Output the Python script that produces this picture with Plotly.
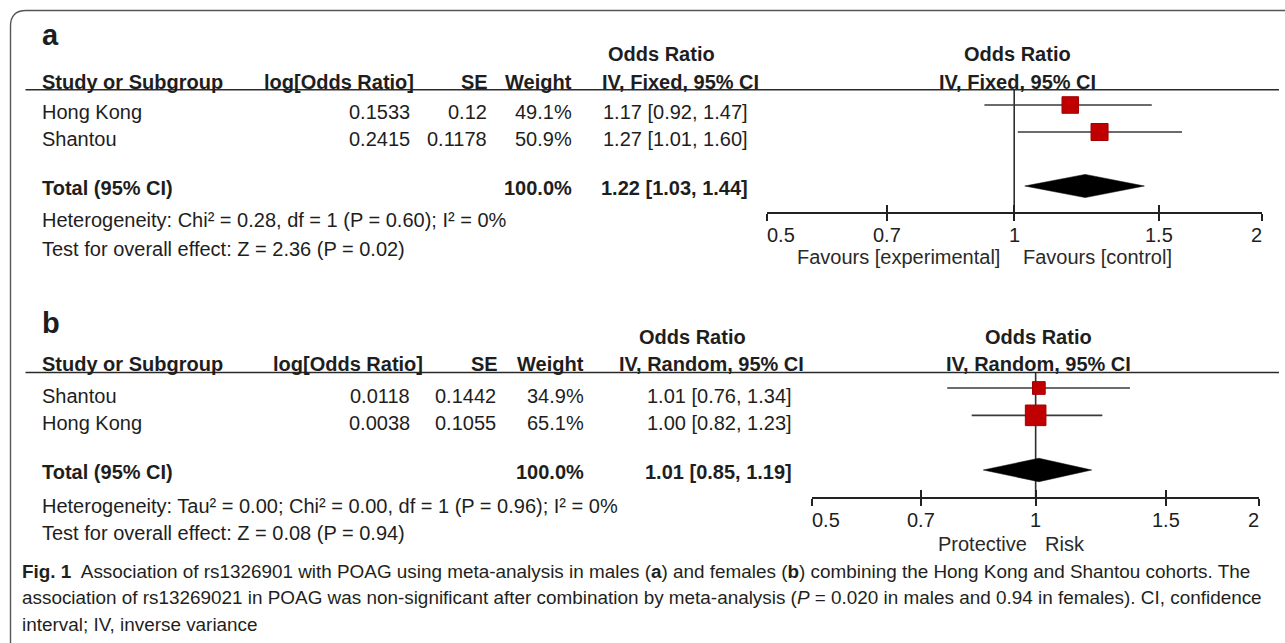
import math
import plotly.graph_objects as go

# ---------------- data ----------------
tick_vals = [0.5, 0.7, 1, 1.5, 2]
tick_text = ["0.5", "0.7", "1", "1.5", "2"]

a_studies = ["Hong Kong", "Shantou"]
a_log_or = [0.1533, 0.2415]
a_se = [0.12, 0.1178]
a_weight = [49.1, 50.9]
a_or = [1.17, 1.27]
a_lo = [0.92, 1.01]
a_hi = [1.47, 1.60]
a_total = [1.22, 1.03, 1.44]
a_method = "IV, Fixed, 95% CI"
a_het = "Heterogeneity: Chi² = 0.28, df = 1 (P = 0.60); I² = 0%"
a_test = "Test for overall effect: Z = 2.36 (P = 0.02)"
a_favours = ["Favours [experimental]", "Favours [control]"]

b_studies = ["Shantou", "Hong Kong"]
b_log_or = [0.0118, 0.0038]
b_se = [0.1442, 0.1055]
b_weight = [34.9, 65.1]
b_or = [1.01, 1.00]
b_lo = [0.76, 0.82]
b_hi = [1.34, 1.23]
b_total = [1.01, 0.85, 1.19]
b_method = "IV, Random, 95% CI"
b_het = "Heterogeneity: Tau² = 0.00; Chi² = 0.00, df = 1 (P = 0.96); I² = 0%"
b_test = "Test for overall effect: Z = 0.08 (P = 0.94)"
b_favours = ["Protective", "Risk"]

caption_lines = [
    "<b>Fig. 1</b>  Association of rs1326901 with POAG using meta-analysis in males (<b>a</b>) and females (<b>b</b>) combining the Hong Kong and Shantou cohorts. The",
    "association of rs13269021 in POAG was non-significant after combination by meta-analysis (<i>P</i> = 0.020 in males and 0.94 in females). CI, confidence",
    "interval; IV, inverse variance",
]

# ---------------- layout helpers ----------------
W, H = 1285, 643
SANS = "Liberation Sans, Arial, sans-serif"
CAP = "Liberation Sans, Arial, sans-serif"
TXT = "#1e1e1e"


def px(x):
    return x / W


def py(y):
    return 1 - y / H


annotations = []
shapes = []
traces = []


def txt(s, x, y, anchor="left", bold=False, size=20, family=SANS, color=TXT):
    annotations.append(dict(
        text=f"<b>{s}</b>" if bold else s, x=px(x), y=py(y), xref="paper", yref="paper",
        xanchor=anchor, yanchor="middle", showarrow=False, borderpad=0, borderwidth=0,
        font=dict(family=family, size=size, color=color)))


panels = [
    dict(label="a", studies=a_studies, log_or=a_log_or, se=a_se, weight=a_weight,
         orv=a_or, lo=a_lo, hi=a_hi, total=a_total, method=a_method, het=a_het,
         test=a_test, fav=a_favours,
         g=dict(lab_y=34.6, top_y=54.3, head_y=82, rule_y=89.7, rows_y=[112, 139.3], tot_y=188,
                het_y=220, test_y=248.5, ax_y=211.7, tick_y=234.5, fav_y=257,
                x0=766.7, x1=1261.7, row0=105, row_h=27.0, fav_gap=(14, 9),
                c_lor=410, h_lor=414, c_se=487, h_se=488, c_w=572, c_ci=748, h_ci=759, or_c=661.5,
                hx=("x", "y", "x3"))),
    dict(label="b", studies=b_studies, log_or=b_log_or, se=b_se, weight=b_weight,
         orv=b_or, lo=b_lo, hi=b_hi, total=b_total, method=b_method, het=b_het,
         test=b_test, fav=b_favours,
         g=dict(lab_y=323, top_y=337, head_y=364, rule_y=372.5, rows_y=[396, 423], tot_y=472,
                het_y=506, test_y=533, ax_y=497.3, tick_y=520, fav_y=544,
                x0=812.3, x1=1259.0, row0=388, row_h=27.33, fav_gap=(9, 9),
                c_lor=410, h_lor=423, c_se=496, h_se=498, c_w=584, c_ci=792, h_ci=804, or_c=692,
                hx=("x2", "y2", "x4"))),
]

layout_axes = {}
for k, p in enumerate(panels):
    g = p["g"]
    xa, ya, xo = g["hx"]
    xa_key = "xaxis" + xa[1:]
    ya_key = "yaxis" + ya[1:]
    xo_key = "xaxis" + xo[1:]

    # --- table text ---
    txt(p["label"], 41.5, g["lab_y"], bold=True, size=29)
    txt("Odds Ratio", g["or_c"], g["top_y"], anchor="center", bold=True)
    txt("Study or Subgroup", 42, g["head_y"], bold=True)
    txt("log[Odds Ratio]", g["h_lor"], g["head_y"], anchor="right", bold=True)
    txt("SE", g["h_se"], g["head_y"], anchor="right", bold=True)
    txt("Weight", g["c_w"], g["head_y"], anchor="right", bold=True)
    txt(p["method"], g["h_ci"], g["head_y"], anchor="right", bold=True)
    for i, s in enumerate(p["studies"]):
        y = g["rows_y"][i]
        txt(s, 42, y)
        txt(str(p["log_or"][i]), g["c_lor"], y, anchor="right")
        txt(str(p["se"][i]), g["c_se"], y, anchor="right")
        txt(f"{p['weight'][i]:.1f}%", g["c_w"], y, anchor="right")
        txt(f"{p['orv'][i]:.2f} [{p['lo'][i]:.2f}, {p['hi'][i]:.2f}]", g["c_ci"], y, anchor="right")
    txt("Total (95% CI)", 42, g["tot_y"], bold=True)
    txt(f"{sum(p['weight']):.1f}%", g["c_w"], g["tot_y"], anchor="right", bold=True)
    te, tl, th = p["total"]
    txt(f"{te:.2f} [{tl:.2f}, {th:.2f}]", g["c_ci"], g["tot_y"], anchor="right", bold=True)
    txt(p["het"], 42, g["het_y"])
    txt(p["test"], 42, g["test_y"])

    # horizontal rule under header
    shapes.append(dict(type="line", xref="paper", yref="paper", x0=px(25.5), x1=px(1279),
                       y0=py(g["rule_y"]), y1=py(g["rule_y"]),
                       line=dict(color="#2a2a2a", width=1.6)))

    # --- forest plot ---
    r_top = (g["rule_y"] - g["row0"]) / g["row_h"]
    r_bot = (g["ax_y"] - g["row0"]) / g["row_h"]
    rows = list(range(len(p["studies"])))
    tot_row = len(p["studies"]) + 1

    # null line
    traces.append(go.Scatter(x=[1, 1], y=[r_top, r_bot], mode="lines", xaxis=xa, yaxis=ya,
                             line=dict(color="#2e2e2e", width=1.6), hoverinfo="skip",
                             showlegend=False, cliponaxis=False))
    # CI lines
    cx, cy = [], []
    for i in rows:
        cx += [p["lo"][i], p["hi"][i], None]
        cy += [i, i, None]
    traces.append(go.Scatter(x=cx, y=cy, mode="lines", xaxis=xa, yaxis=ya,
                             line=dict(color="#3a3a3a", width=1.6), hoverinfo="skip",
                             showlegend=False, cliponaxis=False))
    # squares
    sizes = [0.806 * w ** 0.776 for w in p["weight"]]
    traces.append(go.Scatter(x=p["orv"], y=rows, mode="markers", xaxis=xa, yaxis=ya,
                             marker=dict(symbol="square", size=sizes, color="#C00000", opacity=1,
                                         line=dict(color="#A00000", width=1)),
                             opacity=1, hoverinfo="skip", showlegend=False, cliponaxis=False))
    # diamond
    hh = 0.43
    traces.append(go.Scatter(x=[tl, te, th, te, tl], y=[tot_row, tot_row - hh, tot_row, tot_row + hh, tot_row],
                             mode="lines", fill="toself", fillcolor="#000000",
                             line=dict(color="#000000", width=0.5), xaxis=xa, yaxis=ya,
                             hoverinfo="skip", showlegend=False, cliponaxis=False))
    # invisible trace for the overlay tick axis
    traces.append(go.Scatter(x=[1], y=[0], mode="markers", xaxis=xo, yaxis=ya,
                             marker=dict(opacity=0), hoverinfo="skip", showlegend=False))

    common = dict(type="log", range=[math.log10(tick_vals[0]), math.log10(tick_vals[-1])],
                  tickvals=tick_vals, showticklabels=False, showgrid=False, zeroline=False,
                  ticklen=7, tickwidth=1.8, tickcolor="#222222", fixedrange=True)
    layout_axes[xa_key] = dict(common, domain=[px(g["x0"]), px(g["x1"])], anchor=ya,
                               showline=True, linecolor="#222222", linewidth=1.8, ticks="outside")
    layout_axes[xo_key] = dict(common, overlaying=xa, anchor=ya, showline=False, ticks="inside")
    layout_axes[ya_key] = dict(domain=[py(g["ax_y"]), py(g["rule_y"])], range=[r_bot, r_top],
                               visible=False, showgrid=False, zeroline=False, fixedrange=True)

    # tick labels
    for j, (v, t) in enumerate(zip(tick_vals, tick_text)):
        anc = "left" if j == 0 else ("right" if j == len(tick_vals) - 1 else "center")
        annotations.append(dict(text=t, x=math.log10(v), xref=xa, y=py(g["tick_y"]), yref="paper",
                                xanchor=anc, yanchor="middle", showarrow=False, borderpad=0,
                                borderwidth=0, font=dict(family=SANS, size=20, color=TXT)))
    # favours labels
    annotations.append(dict(text=p["fav"][0], x=0, xref=xa, y=py(g["fav_y"]), yref="paper",
                            xanchor="right", yanchor="middle", xshift=-g["fav_gap"][0], showarrow=False,
                            borderpad=0, borderwidth=0, font=dict(family=SANS, size=20, color="#2a2a2a")))
    annotations.append(dict(text=p["fav"][1], x=0, xref=xa, y=py(g["fav_y"]), yref="paper",
                            xanchor="left", yanchor="middle", xshift=g["fav_gap"][1], showarrow=False,
                            borderpad=0, borderwidth=0, font=dict(family=SANS, size=20, color="#2a2a2a")))
    # plot headers
    for txt_s, yy in (("Odds Ratio", g["top_y"]), (p["method"], g["head_y"])):
        annotations.append(dict(text=f"<b>{txt_s}</b>", x=0, xref=xa, y=py(yy), yref="paper",
                                xanchor="center", yanchor="middle", xshift=3, showarrow=False,
                                borderpad=0, borderwidth=0, font=dict(family=SANS, size=20, color=TXT)))

# caption
for i, line in enumerate(caption_lines):
    txt(line, 22, 571 + 26.5 * i, size=18.9, family=CAP, color="#231f20")

# outer rounded frame
shapes.append(dict(type="path", xref="paper", yref="paper", layer="above",
                   path=f"M {px(10.5)},{py(660)} L {px(10.5)},{py(26)} Q {px(10.5)},{py(10.5)} {px(26)},{py(10.5)} L {px(1300)},{py(10.5)}",
                   line=dict(color="#555555", width=1.4)))

fig = go.Figure(traces)
fig.update_layout(
    width=W, height=H, margin=dict(l=0, r=0, t=0, b=0),
    paper_bgcolor="white", plot_bgcolor="rgba(0,0,0,0)",
    showlegend=False, annotations=annotations, shapes=shapes, **layout_axes,
)
fig.write_html("out.html", config={"displayModeBar": False},
               post_script="document.body.style.margin='0';")
